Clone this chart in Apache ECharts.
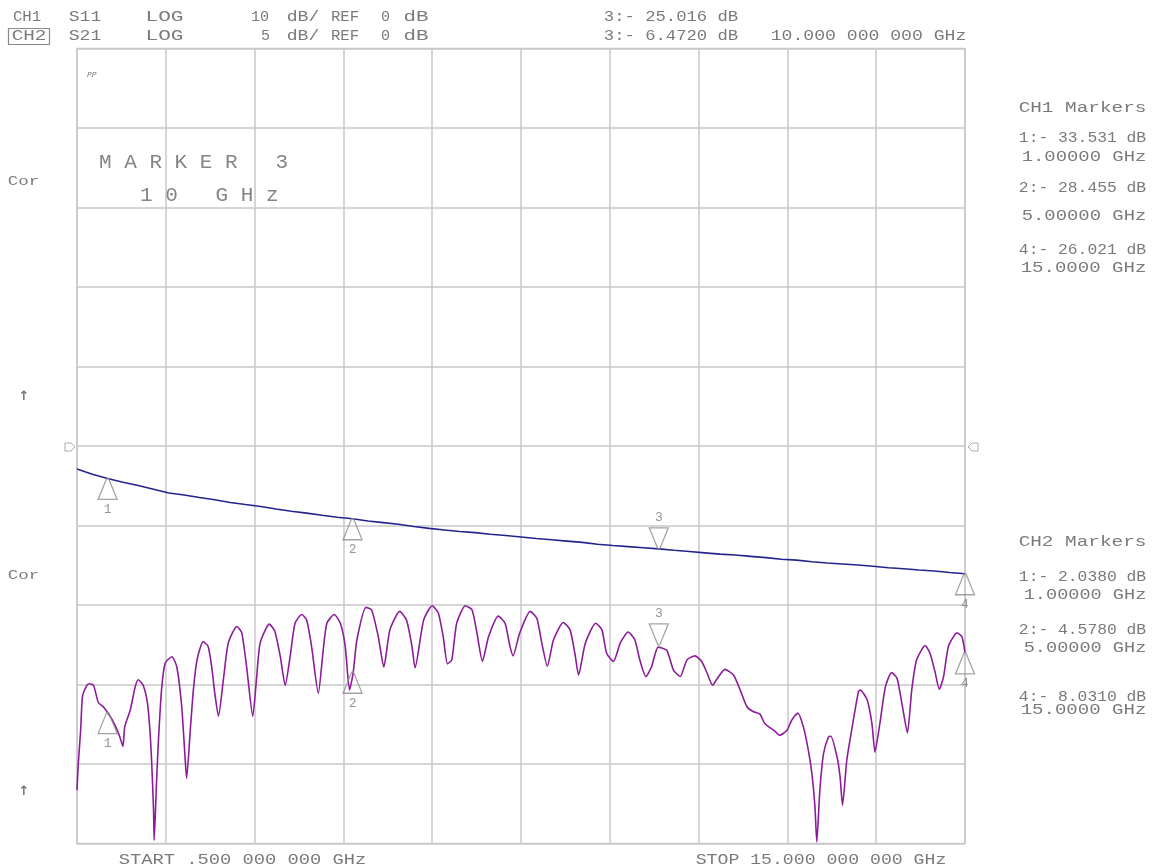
<!DOCTYPE html>
<html><head><meta charset="utf-8">
<script src="https://cdn.jsdelivr.net/npm/echarts@6/dist/echarts.min.js"></script>
<style>html,body{margin:0;padding:0;background:#fff}#c{width:1152px;height:866px}</style>
</head><body><div id="c"></div>
<script>
// ---- data (GHz, dB) ----
const s11Freq = [0.50,0.52,0.56,0.59,0.66,0.71,0.77,0.85,0.93,1.04,1.12,1.20,1.25,1.28,1.37,1.45,1.50,1.58,1.65,1.69,1.72,1.75,1.76,1.80,1.83,1.88,1.94,2.05,2.13,2.21,2.26,2.29,2.35,2.40,2.46,2.56,2.64,2.70,2.75,2.81,2.89,2.97,3.11,3.19,3.27,3.37,3.43,3.49,3.64,3.73,3.82,3.90,3.98,4.06,4.17,4.25,4.33,4.44,4.52,4.58,4.70,4.80,4.88,4.95,5.01,5.07,5.22,5.31,5.42,5.51,5.61,5.77,5.88,5.97,6.02,6.16,6.30,6.40,6.48,6.55,6.62,6.70,6.84,6.95,7.03,7.12,7.22,7.38,7.49,7.57,7.62,7.73,7.90,8.01,8.09,8.18,8.28,8.44,8.55,8.63,8.69,8.80,8.97,9.07,9.15,9.26,9.37,9.50,9.61,9.69,9.79,9.88,9.99,10.13,10.24,10.35,10.46,10.59,10.70,10.78,10.88,10.95,11.08,11.22,11.33,11.44,11.54,11.65,11.73,11.90,11.97,12.09,12.17,12.27,12.36,12.44,12.50,12.55,12.58,12.63,12.69,12.77,12.81,12.91,12.96,13.00,13.07,13.15,13.26,13.29,13.40,13.48,13.53,13.61,13.70,13.80,13.89,13.97,14.06,14.13,14.21,14.35,14.43,14.51,14.58,14.65,14.73,14.87,14.95,15.00];
const s11Db = [-43.3,-40.1,-35.7,-31.5,-30.1,-29.9,-30.1,-32.3,-32.8,-34.0,-35.1,-36.6,-37.8,-35.3,-33.2,-30.3,-29.4,-30.1,-32.3,-35.7,-39.9,-45.8,-49.6,-42.0,-37.0,-30.7,-27.3,-26.5,-27.8,-32.8,-38.6,-41.8,-35.7,-30.7,-26.9,-24.6,-25.2,-27.8,-31.1,-34.0,-29.4,-24.8,-22.7,-23.5,-27.8,-34.0,-29.4,-24.8,-22.4,-23.3,-26.5,-30.1,-26.5,-22.3,-21.2,-21.9,-25.2,-31.1,-25.7,-22.3,-21.2,-22.3,-25.2,-30.7,-28.5,-24.4,-20.3,-20.6,-24.0,-27.8,-23.1,-20.8,-21.9,-25.2,-27.9,-21.9,-20.1,-21.0,-24.0,-27.4,-26.9,-22.3,-20.1,-20.6,-23.5,-27.1,-24.0,-21.4,-22.3,-25.2,-26.4,-23.5,-20.8,-21.7,-24.8,-27.7,-24.4,-22.2,-23.1,-26.1,-28.8,-24.8,-22.3,-23.1,-26.1,-27.1,-24.8,-23.4,-24.4,-26.9,-29.0,-27.8,-25.3,-25.7,-28.2,-29.0,-26.9,-26.4,-27.1,-28.4,-30.1,-29.3,-28.1,-28.8,-30.7,-32.8,-33.4,-33.7,-34.9,-35.9,-36.4,-35.8,-34.5,-33.6,-35.3,-38.2,-41.2,-45.4,-49.8,-43.3,-38.7,-36.6,-36.5,-39.1,-41.6,-45.2,-39.5,-35.7,-30.9,-30.7,-31.9,-34.9,-38.5,-34.9,-30.3,-28.5,-29.2,-32.4,-36.1,-30.7,-26.9,-25.1,-26.1,-28.4,-30.6,-29.0,-25.2,-23.5,-24.0,-26.0];
const s21Freq = [0.50,0.75,1.00,1.25,1.50,1.75,2.00,2.25,2.50,2.75,3.00,3.25,3.50,3.75,4.00,4.25,4.50,4.75,5.00,5.25,5.50,5.75,6.00,6.25,6.50,6.75,7.00,7.25,7.50,7.75,8.00,8.25,8.50,8.75,9.00,9.25,9.50,9.75,10.00,10.25,10.50,10.75,11.00,11.25,11.50,11.75,12.00,12.25,12.50,12.75,13.00,13.25,13.50,13.75,14.00,14.25,14.50,14.75,15.00];
const s21Db = [-1.45,-1.78,-2.04,-2.28,-2.48,-2.72,-2.96,-3.08,-3.24,-3.38,-3.55,-3.68,-3.80,-3.96,-4.10,-4.22,-4.36,-4.48,-4.58,-4.72,-4.82,-4.92,-5.06,-5.18,-5.28,-5.38,-5.45,-5.55,-5.63,-5.72,-5.82,-5.90,-5.98,-6.06,-6.18,-6.26,-6.33,-6.40,-6.47,-6.56,-6.64,-6.72,-6.80,-6.86,-6.94,-7.02,-7.12,-7.18,-7.28,-7.36,-7.42,-7.48,-7.56,-7.66,-7.72,-7.80,-7.86,-7.96,-8.03];
const markerIds = ['1','2','3','4'];
const markerFreq = [1, 5, 10, 15];
const s11Marker = [-33.531, -28.455, -25.016, -26.021];
const s21Marker = [-2.038, -4.578, -6.472, -8.031];
const activeMarker = '3';

// ---- text helpers ----
const FONT = '"Liberation Mono", "DejaVu Sans Mono", monospace';
const TXT = '#7a7a7a';
const cv = document.createElement('canvas').getContext('2d');
function T(text, x1, x2, y, size, color) {
  size = size || 15;
  cv.font = size + 'px ' + FONT;
  const w = cv.measureText(text).width;
  const bear = 0.07 * size;
  let sx = 1;
  if (x2 != null && text.length >= 2) sx = (x2 - x1) / (w - 2 * bear);
  return { type: 'text', x: x1 - bear * sx, y: y, scaleX: sx, silent: true, z: 100,
    style: { text: text, x: 0, y: 0, fontSize: size, fontFamily: FONT, fill: color || TXT, align: 'left', verticalAlign: 'middle' } };
}
const g = [];
// header row 1
g.push(T('CH1', 14, 40, 17.5), T('S11', 70, 100, 17.5), T('LOG', 147, 182, 17.5), T('10', 252, 268, 17.5),
  T('dB/', 288, 318, 17.5), T('REF', 332, 358, 17.5), T('0', 382, null, 17.5), T('dB', 405, 427, 17.5),
  T('3:- 25.016 dB', 605, 737, 17.5));
// header row 2
g.push(T('CH2', 13, 45, 36.5), T('S21', 70, 100, 36.5), T('LOG', 147, 182, 36.5), T('5', 262, null, 36.5),
  T('dB/', 288, 318, 36.5), T('REF', 332, 358, 36.5), T('0', 382, null, 36.5), T('dB', 405, 427, 36.5),
  T('3:- 6.4720 dB', 605, 737, 36.5), T('10.000 000 000 GHz', 772, 965, 36.5));
g.push({ type: 'rect', shape: { x: 8.5, y: 28.5, width: 41, height: 16 }, style: { fill: 'none', stroke: '#8a8a8a', lineWidth: 1.2 }, silent: true });
// right marker tables
const R = 1145;
g.push(T('CH1 Markers', 1020, R, 108), T('1:- 33.531 dB', 1020, R, 138), T('1.00000 GHz', 1023, R, 157),
  T('2:- 28.455 dB', 1020, R, 188), T('5.00000 GHz', 1023, R, 216), T('4:- 26.021 dB', 1020, R, 250), T('15.0000 GHz', 1022, R, 268));
g.push(T('CH2 Markers', 1020, R, 542), T('1:- 2.0380 dB', 1020, R, 577), T('1.00000 GHz', 1025, R, 595),
  T('2:- 4.5780 dB', 1020, R, 630), T('5.00000 GHz', 1025, R, 648), T('4:- 8.0310 dB', 1020, R, 697), T('15.0000 GHz', 1022, R, 710));
// bottom
g.push(T('START .500 000 000 GHz', 120, 365, 860), T('STOP 15.000 000 000 GHz', 697, 945, 860));
// left annotations
g.push(T('Cor', 9, 38, 182, 13), T('Cor', 9, 38, 576, 13));
const ARW = { fontSize: 13, fontFamily: '"DejaVu Sans", sans-serif', fontWeight: 'bold', fill: '#777', align: 'center', verticalAlign: 'middle' };
g.push({ type: 'text', x: 24, y: 397, silent: true, z: 100, style: Object.assign({ text: '↑' }, ARW) });
g.push({ type: 'text', x: 24, y: 792, silent: true, z: 100, style: Object.assign({ text: '↑' }, ARW) });
// title inside plot
g.push({ type: 'text', x: 99, y: 162, silent: true, z: 100, style: { text: 'M A R K E R   3', fontSize: 21, fontFamily: FONT, fill: '#858585', verticalAlign: 'middle' } });
g.push({ type: 'text', x: 140, y: 195, silent: true, z: 100, style: { text: '1 0   G H z', fontSize: 21, fontFamily: FONT, fill: '#858585', verticalAlign: 'middle' } });
g.push({ type: 'text', x: 87, y: 75, silent: true, z: 100, style: { text: 'PP', fontSize: 8, fontFamily: FONT, fill: '#777', fontStyle: 'italic', verticalAlign: 'middle' } });
// reference position flags
g.push({ type: 'polygon', shape: { points: [[65, 443], [71, 443], [75, 447], [71, 451], [65, 451]] }, style: { fill: 'none', stroke: '#aaa', lineWidth: 1 }, silent: true });
g.push({ type: 'polygon', shape: { points: [[978, 443], [972, 443], [968, 447], [972, 451], [978, 451]] }, style: { fill: 'none', stroke: '#aaa', lineWidth: 1 }, silent: true });

// ---- marker series ----
const UP = 'path://M-1,0 L1,0 L10,20 L-10,20 Z';
const DOWN = 'path://M-10,0 L10,0 L1,20 L-1,20 Z';
function markerSeries(yIdx, vals) {
  const up = [], down = [];
  markerFreq.forEach((f, i) => {
    const d = { value: [f, vals[i]], name: markerIds[i] };
    (markerIds[i] === activeMarker ? down : up).push(d);
  });
  const base = { type: 'scatter', xAxisIndex: 0, yAxisIndex: yIdx, symbolSize: [19, 21], clip: false, z: 6, silent: true,
    itemStyle: { color: 'rgba(255,255,255,0)', borderColor: '#8c8c8c', borderWidth: 1.3 },
    label: { show: true, formatter: p => p.name, color: '#7a7a7a', fontSize: 13, fontFamily: FONT, distance: 3 } };
  return [
    Object.assign({}, base, { data: up, symbol: UP, symbolOffset: [0, 10.5], label: Object.assign({}, base.label, { position: 'bottom' }) }),
    Object.assign({}, base, { data: down, symbol: DOWN, symbolOffset: [0, -10.5], label: Object.assign({}, base.label, { position: 'top' }) })
  ];
}

const gridLine = { show: true, lineStyle: { color: '#c8c8c8', width: 1.5 } };
const option = {
  animation: false,
  backgroundColor: '#fff',
  grid: { left: 77, top: 48.5, width: 888, height: 795, containLabel: false, show: true, borderColor: '#c8c8c8', borderWidth: 1.5 },
  xAxis: [
    { type: 'value', min: 0.5, max: 15, show: false },
    { type: 'value', min: 0, max: 10, interval: 1, axisLine: { show: false }, axisTick: { show: false }, axisLabel: { show: false }, splitLine: gridLine }
  ],
  yAxis: [
    { type: 'value', min: -50, max: 50, interval: 10, axisLine: { show: false }, axisTick: { show: false }, axisLabel: { show: false }, splitLine: gridLine },
    { type: 'value', min: -25, max: 25, interval: 5, show: false }
  ],
  series: [
    { type: 'line', name: 'S11', xAxisIndex: 0, yAxisIndex: 0, data: s11Freq.map((f, i) => [f, s11Db[i]]), symbol: 'none', clip: true, z: 3,
      smooth: 0.2,
      lineStyle: { color: '#8d1b9b', width: 1.6 } },
    { type: 'line', name: 'S21', xAxisIndex: 0, yAxisIndex: 1, data: s21Freq.map((f, i) => [f, s21Db[i]]), symbol: 'none', clip: true, z: 3,
      lineStyle: { color: '#24248f', width: 1.6 } },
    ...markerSeries(1, s21Marker),
    ...markerSeries(0, s11Marker)
  ],
  graphic: g
};
const chart = echarts.init(document.getElementById('c'), null, { renderer: 'canvas' });
chart.setOption(option);
</script></body></html>
